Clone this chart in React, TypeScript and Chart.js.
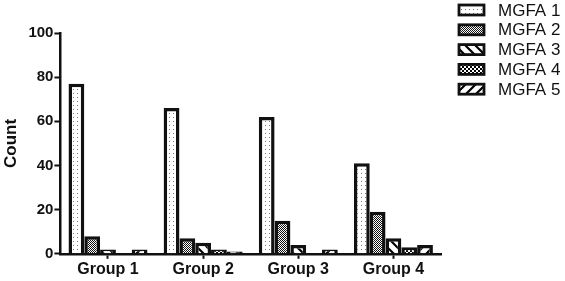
import React, { useEffect, useRef } from "react";
import { Chart, registerables } from "chart.js";

Chart.register(...registerables);

const groups = ["Group 1", "Group 2", "Group 3", "Group 4"];
const seriesNames = ["MGFA 1", "MGFA 2", "MGFA 3", "MGFA 4", "MGFA 5"];
const mgfa1 = [77, 66, 62, 41];
const mgfa2 = [8, 7, 15, 19];
const mgfa3 = [2, 5, 4, 7];
const mgfa4 = [0, 2, 0, 3];
const mgfa5 = [2, 1, 2, 4];
const yTicks = [0, 20, 40, 60, 80, 100];

const FONT = "'Liberation Sans', Arial, sans-serif";

function makePattern(kind: number): CanvasPattern | string {
  const c = document.createElement("canvas");
  const size = kind === 2 || kind === 4 ? 10 : kind === 0 ? 4 : kind === 1 ? 2 : 4;
  c.width = size;
  c.height = size;
  const g = c.getContext("2d")!;
  g.fillStyle = "#fff";
  g.fillRect(0, 0, size, size);
  g.fillStyle = "#000";
  g.strokeStyle = "#000";
  if (kind === 0) {
    g.fillStyle = "#777";
    g.fillRect(1, 1, 1, 1);
  } else if (kind === 1) {
    g.fillStyle = "#111";
    g.fillRect(0, 0, 1, 1);
    g.fillRect(1, 1, 1, 1);
  } else if (kind === 2) {
    g.lineWidth = 2.2;
    g.beginPath();
    g.moveTo(-2, -2);
    g.lineTo(size + 2, size + 2);
    g.moveTo(-2 + size, -2);
    g.lineTo(size + 2 + size, size + 2);
    g.moveTo(-2 - size, -2);
    g.lineTo(size + 2 - size, size + 2);
    g.stroke();
  } else if (kind === 3) {
    g.fillRect(0, 0, 2, 2);
    g.fillRect(2, 2, 2, 2);
  } else if (kind === 4) {
    g.lineWidth = 2.2;
    g.beginPath();
    g.moveTo(-2, size + 2);
    g.lineTo(size + 2, -2);
    g.moveTo(-2 + size, size + 2);
    g.lineTo(size + 2 + size, -2);
    g.moveTo(-2 - size, size + 2);
    g.lineTo(size + 2 - size, -2);
    g.stroke();
  }
  const ctx = document.createElement("canvas").getContext("2d")!;
  return ctx.createPattern(c, "repeat") || "#fff";
}

const sideLegend = {
  id: "sideLegend",
  afterDraw(chart: any) {
    const ctx = chart.ctx as CanvasRenderingContext2D;
    const boxX = 459;
    const textX = 498;
    const startY = 10;
    const step = 19.8;
    ctx.save();
    chart.data.datasets.forEach((ds: any, i: number) => {
      const cy = startY + i * step;
      ctx.fillStyle = ds.backgroundColor;
      ctx.fillRect(boxX, cy - 5, 25, 10);
      ctx.lineWidth = 2.8;
      ctx.strokeStyle = "#111";
      ctx.strokeRect(boxX, cy - 5, 25, 10);
      ctx.fillStyle = "#111";
      ctx.font = `17px ${FONT}`;
      ctx.textBaseline = "middle";
      ctx.textAlign = "left";
      ctx.fillText(ds.label, textX, cy + 1);
    });
    ctx.restore();
  },
};

export default function App() {
  const ref = useRef<HTMLCanvasElement>(null);
  useEffect(() => {
    if (!ref.current) return;
    const values = [mgfa1, mgfa2, mgfa3, mgfa4, mgfa5];
    const chart = new Chart(ref.current, {
      type: "bar",
      data: {
        labels: groups,
        datasets: values.map((v, i) => ({
          label: seriesNames[i],
          data: v,
          backgroundColor: makePattern(i) as any,
          borderColor: "#111",
          borderWidth: 3.5,
          borderSkipped: "bottom",
          barPercentage: 1,
          categoryPercentage: 0.83,
        })),
      },
      plugins: [sideLegend],
      options: {
        animation: false,
        responsive: true,
        maintainAspectRatio: false,
        layout: { padding: { left: 1, top: 33, right: 124, bottom: 1 } },
        plugins: {
          tooltip: { enabled: false },
          legend: { display: false },
        },
        scales: {
          x: {
            grid: {
              display: true,
              drawOnChartArea: false,
              drawTicks: true,
              tickLength: 5,
              tickWidth: 2,
              tickColor: "#111",
              offset: false,
            },
            border: { display: true, color: "#111", width: 2.5 },
            ticks: {
              color: "#111",
              font: { family: FONT, size: 16, weight: "bold" },
              padding: 1,
            },
          },
          y: {
            min: 0,
            max: 100,
            afterBuildTicks: (axis: any) => {
              axis.ticks = yTicks.map((v) => ({ value: v }));
            },
            grid: {
              display: true,
              drawOnChartArea: false,
              drawTicks: true,
              tickLength: 6,
              tickWidth: 2,
              tickColor: "#111",
            },
            border: { display: true, color: "#111", width: 2.5 },
            ticks: {
              color: "#111",
              font: { family: FONT, size: 15, weight: "bold" },
              padding: 1,
            },
            title: {
              display: true,
              text: "Count",
              color: "#111",
              font: { family: FONT, size: 17, weight: "bold" },
              padding: { top: 0, bottom: 6 },
            },
          },
        },
      },
    });
    return () => chart.destroy();
  }, []);
  return (
    <div style={{ position: "fixed", left: 0, top: 0, width: 565, height: 281, background: "#fff" }}>
      <canvas ref={ref} />
    </div>
  );
}
